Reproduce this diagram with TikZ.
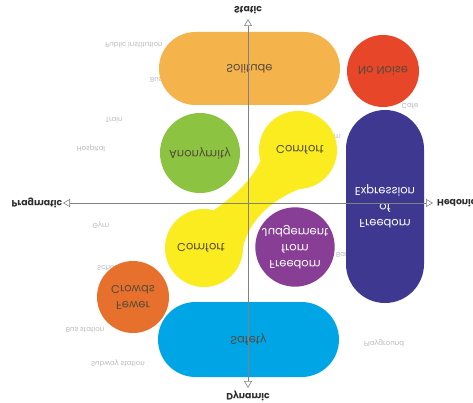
\documentclass[tikz,border=0pt]{standalone}
\usepackage{fontspec}
\setmainfont{Poppins}
\usetikzlibrary{arrows.meta}

\definecolor{solitudeorange}{RGB}{245,180,75}
\definecolor{noisered}{RGB}{232,70,40}
\definecolor{anonymgreen}{RGB}{140,195,65}
\definecolor{comfortyellow}{RGB}{250,236,30}
\definecolor{expressblue}{RGB}{62,56,145}
\definecolor{judgepurple}{RGB}{137,62,150}
\definecolor{crowdorange}{RGB}{232,112,45}
\definecolor{safetyblue}{RGB}{0,165,230}
\definecolor{labeldark}{RGB}{85,75,60}
\definecolor{placegrey}{RGB}{185,185,185}
\definecolor{axisgrey}{RGB}{130,130,130}
\definecolor{poledark}{RGB}{45,45,45}

\tikzset{
  need/.style={inner sep=0pt, align=center, text=labeldark, font=\fontsize{11.5}{16}\selectfont},
  blob/.style={need, circle, minimum size=#1},
  pill/.style={need, rectangle, rounded corners=#1},
  place/.style={text=placegrey, inner sep=0pt, font=\fontsize{7}{8}\selectfont},
  pole/.style={text=poledark, inner sep=0pt, font=\bfseries\fontsize{9.3}{10}\selectfont},
  axis/.style={draw=axisgrey, line width=0.6pt, {Triangle[open,length=7pt,width=8pt]}-{Triangle[open,length=7pt,width=8pt]}}
}

\begin{document}
\begin{tikzpicture}[x=1pt, y=1pt, yscale=-1, transform shape]
	\useasboundingbox[fill=white] (0,0) rectangle (473,403);

	% places, partly hidden by the needs
	\node[place] (pubinst) at (134,45) {Public institution};
	\node[place, anchor=west] (busstop) at (150,79) {Bus stop};
	\node[place] (train) at (114,120) {Train};
	\node[place] (hospital) at (91,148) {Hospital};
	\node[place] (gym) at (101,225) {Gym};
	\node[place, anchor=west] (school) at (97,268) {School};
	\node[place] (busstation) at (85,330) {Bus station};
	\node[place] (subway) at (118,363) {Subway station};
	\node[place] (cafe) at (410,106) {Cafe};
	\node[place, anchor=east] (museum) at (341,137) {Museum};
	\node[place, anchor=west] (bar) at (336,255) {Bar};
	\node[place] (playground) at (384,343) {Playground};

	% needs
	\node[pill=36.5pt, fill=solitudeorange, minimum width=181pt, minimum height=73pt] (solitude) at (249.5,68.5) {Solitude};
	\node[pill=37.5pt, fill=safetyblue, minimum width=181pt, minimum height=75pt] (safety) at (248.5,339.5) {Safety};
	\node[pill=39pt, fill=expressblue, minimum width=78pt, minimum height=193pt, text=white] (expression) at (385,206.5) {Freedom\\of\\Expression};
	\node[blob=72pt, fill=noisered] (nonoise) at (383,71) {No Noise};
	\node[blob=80pt, fill=anonymgreen] (anonymity) at (200,153) {Anonymity};
	\node[blob=76pt, fill=judgepurple, text=white] (judgement) at (295,247) {Freedom\\from\\Judgement};
	\node[blob=72pt, fill=crowdorange] (crowds) at (133,297) {Fewer\\Crowds};

	% comfort blob
	\fill[comfortyellow] (298,150) circle (39) (204,248) circle (39);
	\fill[comfortyellow] (261,160) .. controls (250,183) and (234,196) .. (210,213)
		-- (242,252) .. controls (247,222) and (270,200) .. (302,188) -- cycle;
	\node[need] (comforttop) at (300,150) {Comfort};
	\node[need] (comfortbottom) at (201,248) {Comfort};

	% axes
	\coordinate (top) at (248,19);
	\coordinate (bottom) at (248,388);
	\coordinate (left) at (63,203);
	\coordinate (right) at (433,203);
	\draw[axis] (top) -- (bottom);
	\draw[axis] (left) -- (right);
	\node[pole] (static) at (248,10) {Static};
	\node[pole] (dynamic) at (248,396) {Dynamic};
	\node[pole] (pragmatic) at (37,203) {Pragmatic};
	\node[pole, anchor=west] (hedonic) at (437,203) {Hedonic};
\end{tikzpicture}
\end{document}
